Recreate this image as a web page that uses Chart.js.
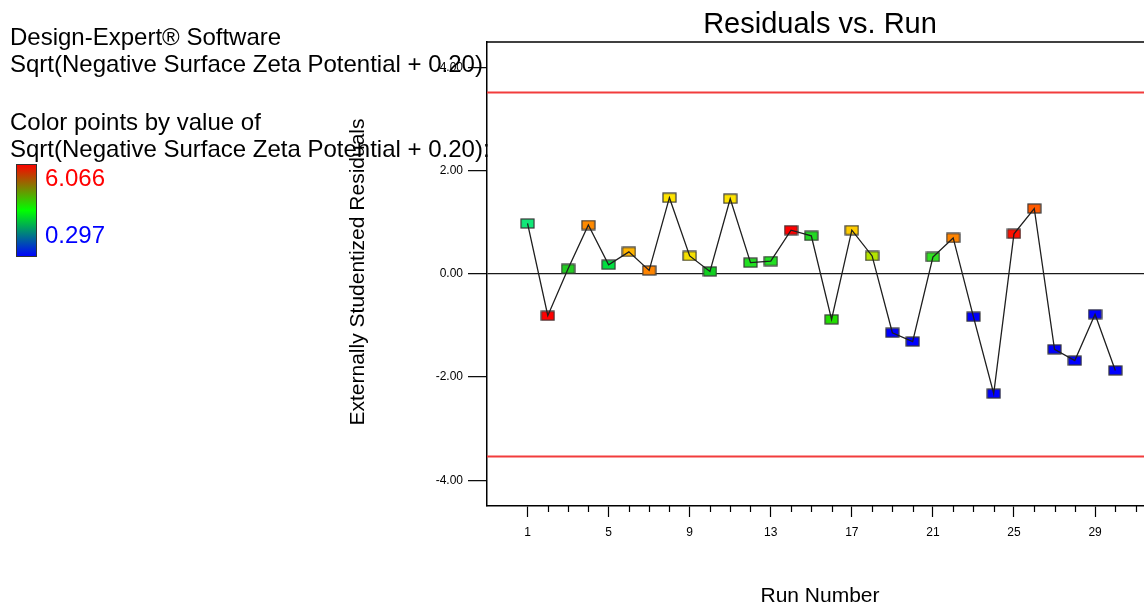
<!DOCTYPE html>
<html>
<head>
<meta charset="utf-8">
<title>Residuals vs. Run</title>
<script src="https://cdn.jsdelivr.net/npm/chart.js@4.4.1/dist/chart.umd.min.js"></script>
<style>
  html, body { margin: 0; padding: 0; background: #fff; overflow: hidden; }
  #wrap { width: 1144px; height: 608px; overflow: hidden; position: relative; }
  canvas { display: block; }
</style>
</head>
<body>
<div id="wrap"><canvas id="chart" width="1176" height="608"></canvas></div>
<script>
// Run order and externally studentized residuals
const runs = [1, 2, 3, 4, 5, 6, 7, 8, 9, 10, 11, 12, 13, 14, 15,
              16, 17, 18, 19, 20, 21, 22, 23, 24, 25, 26, 27, 28, 29, 30];
const residuals = [0.98, -0.81, 0.10, 0.95, 0.18, 0.43, 0.07, 1.48, 0.35, 0.05,
                   1.46, 0.22, 0.25, 0.85, 0.74, -0.88, 0.85, 0.35, -1.14, -1.31,
                   0.33, 0.70, -0.83, -2.32, 0.78, 1.27, -1.46, -1.68, -0.78, -1.87];
// Point colour by response value (red = high, green = mid, blue = low)
const pointColors = ['#10e878', '#ff0000', '#22cc22', '#ff8a00', '#00e040', '#ffb400',
                     '#ff8400', '#ffe400', '#f5e000', '#10d020', '#ffe400', '#22e022',
                     '#22e022', '#ff0000', '#22d822', '#22e000', '#ffcc00', '#b4e400',
                     '#0000ff', '#0000ff', '#33e022', '#ff8400', '#0000ff', '#0000ff',
                     '#ff1000', '#ff5a00', '#0000ff', '#0000ff', '#0000ff', '#0000ff'];
// Outlier limits
const limits = [3.53, -3.53];
// Axis ticks
const yTicks = [-4, -2, 0, 2, 4];
const xTicks = [1, 5, 9, 13, 17, 21, 25, 29];
const xMinorTicks = [2, 3, 4, 6, 7, 8, 10, 11, 12, 14, 15, 16, 18, 19, 20,
                     22, 23, 24, 26, 27, 28, 30, 31, 32];
// Colour scale labels
const colorScaleHigh = '6.066';
const colorScaleLow = '0.297';

const FONT = '"Liberation Sans", Arial, sans-serif';

function makeMarker(color) {
  const c = document.createElement('canvas');
  c.width = 15; c.height = 11;
  const g = c.getContext('2d');
  g.fillStyle = color;
  g.fillRect(1, 1, 13, 9);
  g.strokeStyle = '#383838';
  g.lineWidth = 1.2;
  g.strokeRect(1, 1, 13, 9);
  return c;
}

const points = runs.map((r, i) => ({ x: r, y: residuals[i] }));
const markers = pointColors.map(makeMarker);

const decor = {
  id: 'decor',
  beforeDatasetsDraw(chart) {
    const { ctx, chartArea: a, scales: { y } } = chart;
    ctx.save();
    ctx.strokeStyle = '#f23c3c';
    ctx.lineWidth = 2;
    limits.forEach(v => {
      const py = Math.round(y.getPixelForValue(v)) + 0.5;
      ctx.beginPath();
      ctx.moveTo(a.left, py);
      ctx.lineTo(a.right, py);
      ctx.stroke();
    });
    ctx.restore();
  },
  afterDraw(chart) {
    const { ctx, chartArea: a, scales: { x } } = chart;
    ctx.save();

    // frame top edge
    ctx.strokeStyle = '#000';
    ctx.lineWidth = 1.5;
    ctx.beginPath();
    ctx.moveTo(a.left, a.top);
    ctx.lineTo(a.right, a.top);
    ctx.stroke();

    // minor ticks on the run axis
    ctx.lineWidth = 1.2;
    xMinorTicks.forEach(v => {
      const px = Math.round(x.getPixelForValue(v)) + 0.5;
      ctx.beginPath();
      ctx.moveTo(px, a.bottom);
      ctx.lineTo(px, a.bottom + 6);
      ctx.stroke();
    });

    ctx.fillStyle = '#000';
    ctx.textBaseline = 'alphabetic';

    // chart title
    ctx.font = '29px ' + FONT;
    ctx.textAlign = 'center';
    ctx.fillText('Residuals vs. Run', 820, 33);

    // axis titles
    ctx.font = '21px ' + FONT;
    ctx.fillText('Run Number', 820, 602);
    ctx.save();
    ctx.translate(364, 272);
    ctx.rotate(-Math.PI / 2);
    ctx.fillText('Externally Studentized Residuals', 0, 0);
    ctx.restore();

    // side notes
    ctx.textAlign = 'left';
    ctx.font = '24px ' + FONT;
    ctx.fillText('Design-Expert\u00AE Software', 10, 45);
    ctx.fillText('Sqrt(Negative Surface Zeta Potential + 0.20)', 10, 72);
    ctx.fillText('Color points by value of', 10, 130);
    ctx.fillText('Sqrt(Negative Surface Zeta Potential + 0.20):', 10, 157);

    // colour bar
    const grad = ctx.createLinearGradient(0, 164, 0, 257);
    grad.addColorStop(0, '#ff0000');
    grad.addColorStop(0.5, '#00ff00');
    grad.addColorStop(1, '#0000ff');
    ctx.fillStyle = grad;
    ctx.fillRect(16, 164, 21, 93);
    ctx.strokeStyle = '#333';
    ctx.lineWidth = 1;
    ctx.strokeRect(16.5, 164.5, 20, 92);

    ctx.font = '24px ' + FONT;
    ctx.fillStyle = '#ff0000';
    ctx.fillText(colorScaleHigh, 45, 186);
    ctx.fillStyle = '#0000ff';
    ctx.fillText(colorScaleLow, 45, 243);

    ctx.restore();
  }
};

new Chart(document.getElementById('chart'), {
  type: 'scatter',
  data: {
    datasets: [
      {
        type: 'line',
        data: points,
        showLine: true,
        borderColor: '#1e1e1e',
        borderWidth: 1.3,
        pointRadius: 0,
        tension: 0,
        order: 0
      },
      {
        type: 'line',
        data: points,
        showLine: false,
        pointStyle: markers,
        pointRadius: 7,
        order: 1
      }
    ]
  },
  options: {
    responsive: false,
    animation: false,
    devicePixelRatio: 1,
    layout: { padding: { top: 42, right: 10, left: 0, bottom: 0 } },
    plugins: { legend: { display: false }, tooltip: { enabled: false }, title: { display: false } },
    scales: {
      x: {
        type: 'linear',
        min: -1,
        max: 32.5,
        afterBuildTicks: s => { s.ticks = xTicks.map(v => ({ value: v })); },
        afterFit: s => { s.height = 102; },
        ticks: {
          autoSkip: false, maxRotation: 0, padding: 8, color: '#000',
          font: { family: FONT, size: 12 },
          callback: v => String(v)
        },
        grid: { drawOnChartArea: false, tickLength: 11, tickColor: '#000', tickWidth: 1.2 },
        border: { color: '#000', width: 1.5 }
      },
      y: {
        type: 'linear',
        min: -4.5,
        max: 4.5,
        afterBuildTicks: s => { s.ticks = yTicks.map(v => ({ value: v })); },
        afterFit: s => { s.width = 487; },
        ticks: {
          padding: 5, color: '#000',
          font: { family: FONT, size: 12 },
          callback: v => Number(v).toFixed(2)
        },
        grid: {
          drawOnChartArea: true,
          color: c => (c.tick && c.tick.value === 0) ? '#1a1a1a' : 'rgba(0,0,0,0)',
          lineWidth: 1.3,
          tickLength: 19, tickColor: '#000', tickWidth: 1.2
        },
        border: { color: '#000', width: 1.5 }
      }
    }
  },
  plugins: [decor]
});
</script>
</body>
</html>
